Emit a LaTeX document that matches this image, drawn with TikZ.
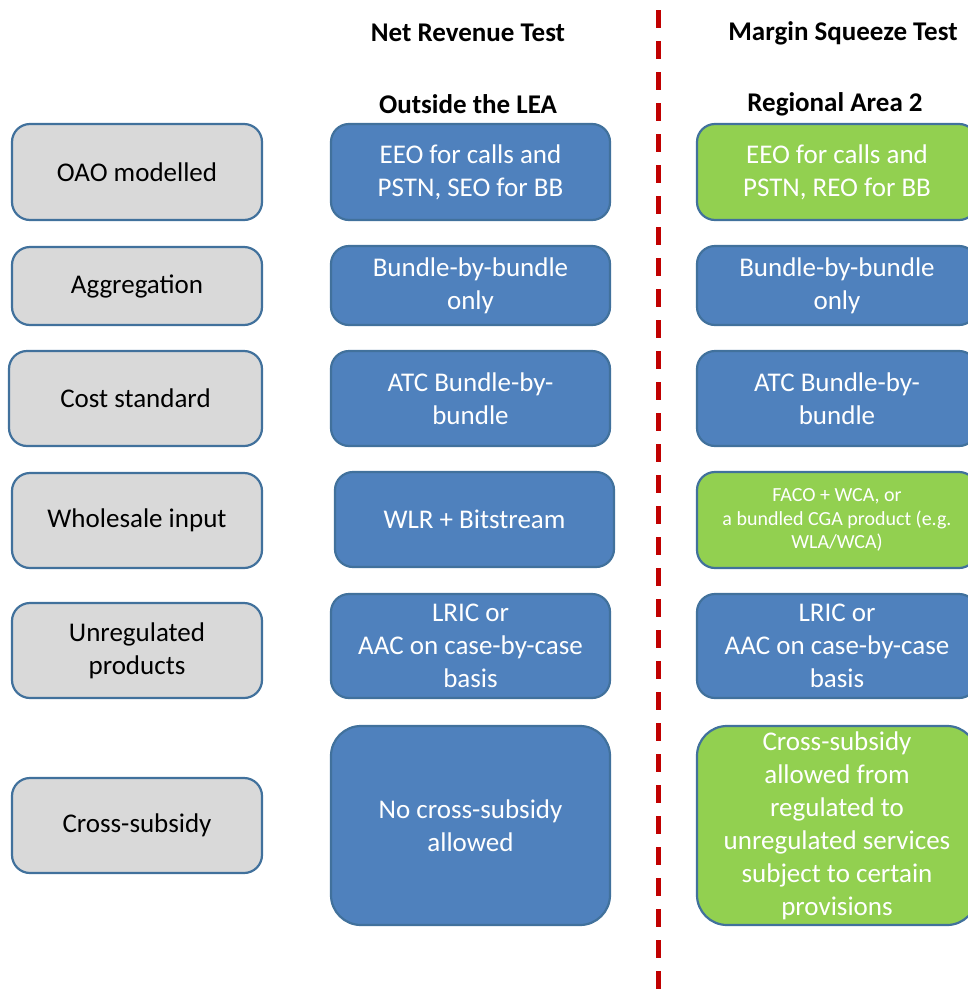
\documentclass[tikz,border=0pt]{standalone}
\usepackage{fontspec}
\setmainfont{Carlito}
\definecolor{rowgray}{HTML}{D9D9D9}
\definecolor{netblue}{HTML}{4F81BD}
\definecolor{msgreen}{HTML}{92D050}
\definecolor{edgeblue}{HTML}{41719C}
\definecolor{splitred}{HTML}{C00000}

\begin{document}
\begin{tikzpicture}[x=1pt,y=-1pt,
	box/.style={draw=edgeblue,line width=2.2pt,rounded corners=18pt,align=center,
		inner sep=0pt,font=\fontsize{27}{33}\selectfont},
	rowbox/.style={box,fill=rowgray,text=black},
	bluebox/.style={box,fill=netblue,text=white},
	greenbox/.style={box,fill=msgreen,text=white},
	head/.style={font=\fontsize{27}{33}\selectfont\bfseries}]
	\clip (0,0) rectangle (968,991);
	\useasboundingbox (0,0) rectangle (968,991);
	\node[head] (nrt) at (468,33) {Net Revenue Test};
	\node[head] (mst) at (843,33) {Margin Squeeze Test};
	\node[head] (lea) at (468,104) {Outside the LEA};
	\node[head] (ra2) at (835,104) {Regional Area 2};

	\node[rowbox,minimum width=250,minimum height=96] (oao) at (137,172) {OAO modelled};
	\node[rowbox,minimum width=250,minimum height=78] (agg) at (137,286) {Aggregation};
	\node[rowbox,minimum width=253,minimum height=95] (cost) at (135.5,398.5) {Cost standard};
	\node[rowbox,minimum width=250,minimum height=95] (whole) at (137,520.5) {Wholesale input};
	\node[rowbox,minimum width=250,minimum height=95] (unreg) at (137,650.5) {Unregulated\\products};
	\node[rowbox,minimum width=250,minimum height=95] (cross) at (137,825.5) {Cross-subsidy};

	\node[bluebox,minimum width=279,minimum height=96] (nrt1) at (470.5,172) {EEO for calls and\\PSTN, SEO for BB};
	\node[bluebox,minimum width=279,minimum height=79] (nrt2) at (470.5,285.5) {Bundle-by-bundle\\only};
	\node[bluebox,minimum width=279,minimum height=95] (nrt3) at (470.5,398.5) {ATC Bundle-by-\\bundle};
	\node[bluebox,minimum width=279,minimum height=95] (nrt4) at (474.5,519.5) {WLR + Bitstream};
	\node[bluebox,minimum width=279,minimum height=104] (nrt5) at (470.5,646) {LRIC or\\AAC on case-by-case\\basis};
	\node[bluebox,minimum width=279,minimum height=199,rounded corners=30pt] (nrt6) at (470.5,825.5) {No cross-subsidy\\allowed};

	\node[greenbox,minimum width=280,minimum height=96] (ms1) at (837,172) {EEO for calls and\\PSTN, REO for BB};
	\node[bluebox,minimum width=280,minimum height=79] (ms2) at (837,285.5) {Bundle-by-bundle\\only};
	\node[bluebox,minimum width=280,minimum height=95] (ms3) at (837,398.5) {ATC Bundle-by-\\bundle};
	\node[greenbox,minimum width=280,minimum height=96,font=\fontsize{20}{23.5}\selectfont] (ms4) at (837,520) {FACO + WCA, or\\a bundled CGA product (e.g.\\WLA/WCA)};
	\node[bluebox,minimum width=280,minimum height=104] (ms5) at (837,646) {LRIC or\\AAC on case-by-case\\basis};
	\node[greenbox,minimum width=280,minimum height=199,rounded corners=30pt] (ms6) at (837,825.5) {Cross-subsidy\\allowed from\\regulated to\\unregulated services\\subject to certain\\provisions};

	\coordinate (splittop) at (658,10);
	\coordinate (splitbot) at (658,991);
	\draw[splitred,line width=5pt,dash pattern=on 18pt off 13pt] (splittop) -- (splitbot);
\end{tikzpicture}
\end{document}
